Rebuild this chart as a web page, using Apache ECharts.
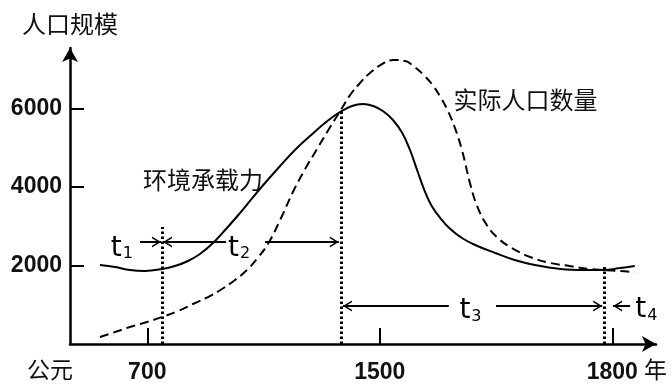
<!DOCTYPE html>
<html><head><meta charset="utf-8">
<script src="https://cdn.jsdelivr.net/npm/echarts@6/dist/echarts.min.js"></script>
<style>html,body{margin:0;padding:0;background:#fff}#c{width:672px;height:392px}</style>
</head><body><div id="c"></div>
<script>
// x-axis ticks (the axis is not proportional in years: 700 -> 1500 -> 1800 are evenly spaced)
const tickYears = [700, 1500, 1800];
const tickLabels = ['700', '1500', '1800'];
const yTicks = [2000, 4000, 6000];

// 环境承载力 (solid)
const carryYears  = [537, 589, 640, 692, 751, 795, 840, 881, 926, 971, 1019, 1064, 1108, 1157, 1208, 1260, 1311, 1363, 1404, 1442, 1477, 1504, 1517, 1529, 1539, 1549, 1558, 1567, 1578, 1591, 1606, 1623, 1649, 1674, 1700, 1733, 1765, 1789, 1810, 1829];
const carryValues = [2013, 1962, 1885, 1860, 1911, 1987, 2115, 2293, 2573, 2930, 3338, 3745, 4127, 4535, 4943, 5299, 5631, 5911, 6064, 6115, 6064, 5936, 5707, 5376, 4943, 4382, 3898, 3516, 3210, 2930, 2701, 2522, 2318, 2140, 2013, 1911, 1885, 1885, 1936, 1987];

// 实际人口数量 (dashed)
const popYears  = [537, 589, 640, 699, 751, 806, 857, 909, 957, 1002, 1043, 1077, 1115, 1157, 1201, 1243, 1284, 1325, 1366, 1398, 1432, 1466, 1503, 1517, 1533, 1545, 1558, 1569, 1579, 1588, 1597, 1606, 1616, 1625, 1638, 1651, 1668, 1694, 1720, 1745, 1771, 1789, 1810, 1829];
const popValues = [178, 306, 433, 561, 688, 841, 1019, 1197, 1401, 1631, 1885, 2166, 2548, 3159, 3873, 4459, 4968, 5478, 5962, 6344, 6650, 6905, 7134, 7236, 7210, 7057, 6828, 6573, 6268, 5936, 5503, 4943, 4127, 3541, 3032, 2726, 2471, 2217, 2064, 1987, 1911, 1885, 1860, 1834];

// dotted vertical guides: year and top value
const guideYears = [751, 1366, 1789];
const guideTops  = [2980, 5960, 1960];

// period arrows: [tail year, tip year, value]
const arrowSpecs = [
  [675, 747, 2600], [971, 754, 2600], [1105, 1359, 2600],
  [1589, 1373, 968], [1650, 1787, 968], [1823, 1801, 968]
];
// period labels: [name, subscript, year, value]
const periodLabels = [['t', '1', 612, 2440], ['t', '2', 1016, 2440], ['t', '3', 1617, 840], ['t', '4', 1844, 880]];
// curve names: [text, year, value]
const curveNames = [['环境承载力', 892, 4180], ['实际人口数量', 1688, 6220]];

function pos(y) { return y <= 1500 ? 1 + (y - 700) / 800 : 2 + (y - 1500) / 300; }

const cjk = '"Noto Sans CJK SC", sans-serif';
const num = '"Liberation Sans", Arial, sans-serif';
const chevron = 'path://M5,-10L5,-10M0,10L5,0L10,10L8.4,10L5,3.2L1.6,10Z';

const chart = echarts.init(document.getElementById('c'), null, {renderer: 'canvas'});
chart.setOption({
  animation: false,
  backgroundColor: '#fff',
  grid: {left: 70, right: 16, top: 48, bottom: 48},
  xAxis: {
    type: 'value', min: 0.6675, max: 3.188,
    splitLine: {show: false},
    axisLine: {show: true, symbol: ['none', 'arrow'], symbolSize: [12, 14], lineStyle: {color: '#000', width: 2.5}},
    axisTick: {show: true, inside: true, length: 16, lineStyle: {color: '#000', width: 2}, customValues: tickYears.map(pos)},
    axisLabel: {
      show: true, margin: 17, color: '#111', fontSize: 23, fontWeight: 'bold', fontFamily: num,
      customValues: tickYears.map(pos),
      formatter: v => { const i = tickYears.map(pos).findIndex(p => Math.abs(p - v) < 1e-6); return i >= 0 ? tickLabels[i] : ''; }
    }
  },
  yAxis: {
    type: 'value', min: 0, max: 7542,
    name: '人口规模', nameLocation: 'end', nameGap: 12,
    nameTextStyle: {color: '#111', fontSize: 24, fontFamily: cjk, align: 'center'},
    splitLine: {show: false},
    axisLine: {show: true, symbol: ['none', 'arrow'], symbolSize: [12, 14], lineStyle: {color: '#000', width: 2.5}},
    axisTick: {show: true, inside: true, length: 14, lineStyle: {color: '#000', width: 2}, customValues: yTicks},
    axisLabel: {show: true, margin: 8, color: '#111', fontSize: 23, fontWeight: 'bold', fontFamily: num, customValues: yTicks,
      formatter: v => String(v)}
  },
  graphic: [
    {type: 'text', left: 27, top: 358, style: {text: '公元', fontSize: 23, fontFamily: cjk, fill: '#111'}},
    {type: 'text', left: 644, top: 358, style: {text: '年', fontSize: 23, fontFamily: cjk, fill: '#111'}}
  ],
  series: [
    {
      name: '环境承载力', type: 'line', smooth: 0.4, showSymbol: false, silent: true,
      lineStyle: {color: '#000', width: 2},
      data: carryYears.map((y, i) => [pos(y), carryValues[i]])
    },
    {
      name: '实际人口数量', type: 'line', smooth: 0.4, showSymbol: false, silent: true,
      lineStyle: {color: '#000', width: 2, type: [9, 5]},
      data: popYears.map((y, i) => [pos(y), popValues[i]])
    },
    {
      type: 'line', data: [], silent: true,
      markLine: {
        silent: true, symbol: ['none', 'none'], label: {show: false},
        lineStyle: {color: '#000', width: 3, type: [2.5, 2.5]},
        emphasis: {disabled: true},
        data: guideYears.map((y, i) => [{coord: [pos(y), 0]}, {coord: [pos(y), guideTops[i]]}])
      }
    },
    {
      type: 'line', data: [], silent: true,
      markLine: {
        silent: true, symbol: ['none', chevron], symbolSize: [11, 18], label: {show: false},
        lineStyle: {color: '#000', width: 2, type: 'solid'},
        emphasis: {disabled: true},
        data: arrowSpecs.map(a => [{coord: [pos(a[0]), a[2]]}, {coord: [pos(a[1]), a[2]]}])
      },
      markPoint: {
        silent: true, symbol: 'circle', symbolSize: 0,
        data: periodLabels.map(p => ({
          coord: [pos(p[2]), p[3]],
          label: {show: true, position: 'inside', formatter: '{t|' + p[0] + '}{s|' + p[1] + '}',
            rich: {
              t: {fontFamily: '"DejaVu Sans", sans-serif', fontSize: 28, color: '#000'},
              s: {fontFamily: '"DejaVu Sans", sans-serif', fontSize: 16, color: '#000', verticalAlign: 'bottom', padding: [0, 0, 0, 1]}
            }}
        })).concat(curveNames.map(c => ({
          coord: [pos(c[1]), c[2]],
          label: {show: true, position: 'inside', formatter: c[0], fontFamily: cjk, fontSize: 24, color: '#111'}
        })))
      }
    }
  ]
});
</script></body></html>
